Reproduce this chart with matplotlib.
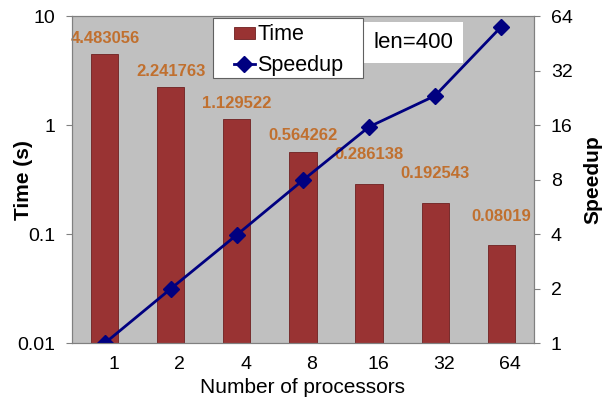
import matplotlib.pyplot as plt
from matplotlib.patches import Rectangle
from matplotlib.ticker import FixedLocator, FixedFormatter, NullLocator
from matplotlib.transforms import ScaledTranslation

plt.rcParams['font.family'] = ['Liberation Sans', 'DejaVu Sans']

processors = ["1", "2", "4", "8", "16", "32", "64"]
time_s = [4.483056, 2.241763, 1.129522, 0.564262, 0.286138, 0.192543, 0.08019]
time_labels = ["4.483056", "2.241763", "1.129522", "0.564262", "0.286138", "0.192543", "0.08019"]
speedup = [1, 2, 3.97, 7.95, 15.67, 23.28, 55.9]

# vertical offsets (points) of the value labels above each bar
label_offsets = [6, 6, 6, 6.5, 16.5, 16, 15]

fig = plt.figure(figsize=(6.09, 4.07), dpi=100)
ax = fig.add_axes([0.118, 0.157, 0.759, 0.803])
ax.set_facecolor('#c0c0c0')

x = range(len(processors))
bars = ax.bar(x, time_s, width=0.41, color='#993333', edgecolor='#6e2020', linewidth=0.6, label='Time')
ax.set_yscale('log')
ax.set_ylim(0.01, 10)
ax.set_xlim(-0.5, len(processors) - 0.5)
ax.yaxis.set_major_locator(FixedLocator([0.01, 0.1, 1, 10]))
ax.yaxis.set_major_formatter(FixedFormatter(["0.01", "0.1", "1", "10"]))
ax.yaxis.set_minor_locator(NullLocator())
ax.set_xticks(list(x))
ax.set_xticklabels(processors)
ax.tick_params(axis='x', length=0, labelsize=14, pad=9)
ax.tick_params(axis='y', length=4, color='#808080', labelsize=14, pad=8)
# category labels sit a little right of the bar centres
shift = ScaledTranslation(0.09, 0, fig.dpi_scale_trans)
for lbl in ax.get_xticklabels():
    lbl.set_transform(lbl.get_transform() + shift)
ax.set_xlabel("Number of processors", fontsize=15, labelpad=4)
ax.set_ylabel("Time (s)", fontsize=15, fontweight='bold')
ax.yaxis.set_label_coords(-0.085, 0.5)
for s in ax.spines.values():
    s.set_color('#808080')

for xi, t, lab, off in zip(x, time_s, time_labels, label_offsets):
    ax.annotate(lab, (xi, t), xytext=(0, off), textcoords='offset points',
                ha='center', va='bottom', fontsize=12, fontweight='bold', color='#c0702f')

ax2 = ax.twinx()
line, = ax2.plot(x, speedup, color='#000080', marker='D', markersize=8.5, linewidth=2, label='Speedup')
ax2.set_yscale('log', base=2)
ax2.set_ylim(1, 64)
ticks2 = [1, 2, 4, 8, 16, 32, 64]
ax2.yaxis.set_major_locator(FixedLocator(ticks2))
ax2.yaxis.set_major_formatter(FixedFormatter([str(t) for t in ticks2]))
ax2.yaxis.set_minor_locator(NullLocator())
ax2.tick_params(axis='y', length=4, color='#808080', labelsize=14, pad=8)
ax2.set_ylabel("Speedup", fontsize=15, fontweight='bold', labelpad=8)
for s in ax2.spines.values():
    s.set_color('#808080')

# legend box drawn separately so it can have a wide left margin
ax2.add_patch(Rectangle((0.305, 0.810), 0.325, 0.184, transform=ax2.transAxes,
                        facecolor='white', edgecolor='#606060', linewidth=0.8, zorder=5))
leg = ax2.legend([bars, line], ["Time", "Speedup"], loc='upper left',
                 bbox_to_anchor=(0.35, 0.975), fontsize=15.5, frameon=False,
                 borderpad=0, borderaxespad=0, handletextpad=0.1, handlelength=1.0,
                 handleheight=0.5, labelspacing=0.45)
leg.set_zorder(6)

ax2.text(0.739, 0.920, "len=400", transform=ax2.transAxes, ha='center', va='center',
         fontsize=16, bbox=dict(facecolor='white', edgecolor='none', pad=7))

fig.savefig("out.png", dpi=100)
